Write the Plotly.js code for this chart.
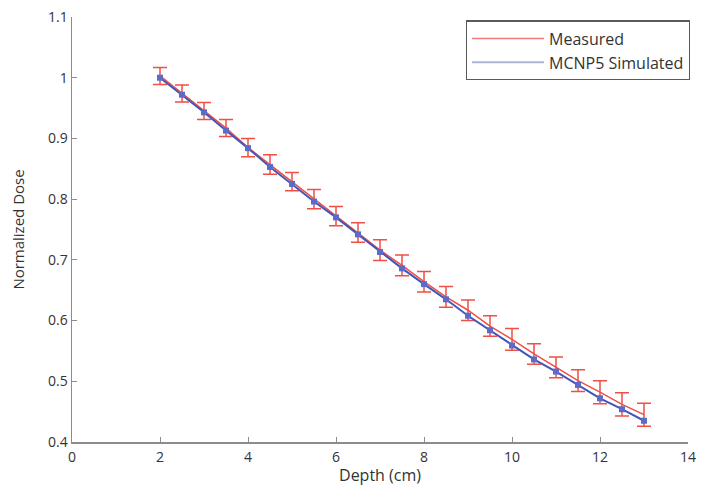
<!DOCTYPE html>
<html>
<head>
<meta charset="utf-8">
<script src="https://cdn.plot.ly/plotly-3.0.1.min.js"></script>
<style>html,body{margin:0;padding:0;background:#fff;}#chart{width:705px;height:486px;}</style>
</head>
<body>
<div id="chart"></div>
<script>
var depth = [2, 2.5, 3, 3.5, 4, 4.5, 5, 5.5, 6, 6.5, 7, 7.5, 8, 8.5, 9, 9.5, 10, 10.5, 11, 11.5, 12, 12.5, 13];
var measured = [1.003, 0.974, 0.945, 0.917, 0.885, 0.857, 0.829, 0.800, 0.772, 0.745, 0.716, 0.691, 0.664, 0.639, 0.617, 0.591, 0.569, 0.545, 0.523, 0.501, 0.482, 0.462, 0.445];
var measuredErr = [0.014, 0.014, 0.014, 0.014, 0.015, 0.016, 0.015, 0.016, 0.016, 0.016, 0.017, 0.017, 0.017, 0.017, 0.017, 0.017, 0.018, 0.017, 0.017, 0.018, 0.019, 0.019, 0.019];
var simulated = [1.000, 0.972, 0.943, 0.913, 0.884, 0.853, 0.825, 0.796, 0.770, 0.742, 0.713, 0.686, 0.660, 0.635, 0.608, 0.584, 0.559, 0.536, 0.516, 0.494, 0.472, 0.454, 0.435];
var seriesNames = ["Measured", "MCNP5 Simulated"];
var xTicks = [0, 2, 4, 6, 8, 10, 12, 14];
var yTicks = [0.4, 0.5, 0.6, 0.7, 0.8, 0.9, 1, 1.1];

var red = "#ef4f45";
var blue = "#4356b8";
var font = "Open Sans, Noto Sans, sans-serif";
var txt = "#333333";

var traces = [
  {
    x: depth, y: measured, type: "scatter", mode: "lines",
    line: {color: red, width: 1.5},
    error_y: {type: "data", array: measuredErr, visible: true, color: red, thickness: 1.5, width: 7},
    showlegend: false
  },
  {
    x: depth, y: simulated, type: "scatter", mode: "lines+markers",
    line: {color: blue, width: 2},
    marker: {symbol: "square", size: 6, color: "#5a6cc8"},
    showlegend: false
  },
  {
    x: [null], y: [null], type: "scatter", mode: "lines", name: seriesNames[0],
    line: {color: "#f07a78", width: 1.5}
  },
  {
    x: [null], y: [null], type: "scatter", mode: "lines", name: seriesNames[1],
    line: {color: "#a9b4dc", width: 2}
  }
];

var axisCommon = {
  showgrid: false, zeroline: false, showline: true,
  linecolor: "#8c8c8c", linewidth: 1.5,
  ticks: "inside", ticklen: 5, tickwidth: 1, tickcolor: "#8c8c8c",
  tickfont: {family: font, size: 14, color: txt},
  mirror: false
};

var layout = {
  width: 705, height: 486,
  margin: {l: 72, r: 17, t: 17, b: 44},
  paper_bgcolor: "#fff", plot_bgcolor: "#fff",
  font: {family: font, color: txt},
  showlegend: true,
  legend: {
    x: 1.003, y: 0.992, xanchor: "right", yanchor: "top",
    bordercolor: "#5a5a5a", borderwidth: 1.2, bgcolor: "#fff",
    font: {family: font, size: 16, color: txt},
    itemwidth: 72, tracegroupgap: 0
  },
  xaxis: Object.assign({}, axisCommon, {
    range: [0, 14], tickmode: "array", tickvals: xTicks,
    ticklabelstandoff: 2,
    title: {text: "Depth (cm)", font: {family: font, size: 16, color: txt}, standoff: 2}
  }),
  yaxis: Object.assign({}, axisCommon, {
    range: [0.4, 1.1], tickmode: "array", tickvals: yTicks,
    ticktext: yTicks.map(function(v){return String(v);}),
    title: {text: "Normalized Dose", font: {family: font, size: 15, color: txt}, standoff: 20}
  })
};

Plotly.newPlot("chart", traces, layout, {displayModeBar: false, staticPlot: true});
</script>
</body>
</html>
